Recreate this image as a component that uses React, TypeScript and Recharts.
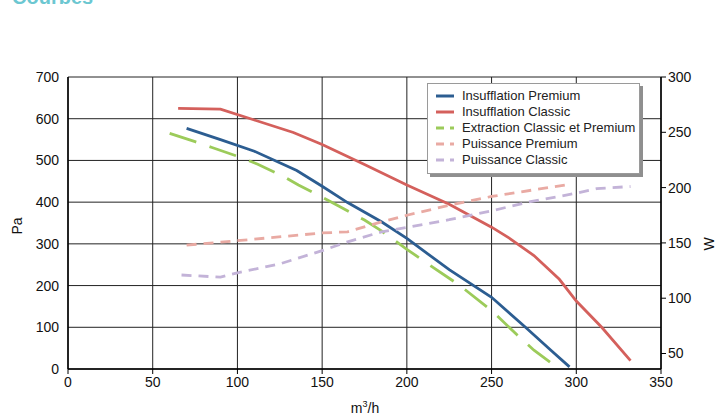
import React from "react";
import { ComposedChart, Line, XAxis, YAxis, CartesianGrid } from "recharts";

// axis ticks
const flowTicks = [0, 50, 100, 150, 200, 250, 300, 350];
const paTicks = [0, 100, 200, 300, 400, 500, 600, 700];
const wattTicks = [50, 100, 150, 200, 250, 300];

// pressure curves (m3/h -> Pa)
const insPremiumFlow = [70, 90, 110, 135, 150, 165, 185, 200, 225, 250, 270, 285, 296];
const insPremiumPa = [577, 550, 522, 476, 438, 399, 353, 313, 238, 172, 100, 45, 5];

const insClassicFlow = [65, 90, 110, 133, 150, 175, 200, 225, 250, 260, 275, 290, 300, 315, 332];
const insClassicPa = [625, 623, 597, 567, 538, 490, 441, 395, 340, 315, 272, 215, 163, 100, 20];

const extractionFlow = [60, 75, 85, 100, 112, 128, 136, 150, 160, 175, 185, 200, 215, 231, 250, 265, 275, 290];
const extractionPa = [565, 545, 531, 510, 491, 460, 441, 412, 390, 357, 331, 287, 245, 201, 140, 82, 45, 0];

// power curves (m3/h -> W)
const powerPremiumFlow = [70, 100, 150, 165, 185, 200, 225, 250, 275, 296];
const powerPremiumW = [148, 152, 159, 160, 169, 175, 184, 192, 198, 203];

const powerClassicFlow = [67, 90, 100, 125, 150, 165, 185, 200, 225, 250, 272, 290, 300, 312, 332];
const powerClassicW = [121, 119, 123, 131, 143, 151, 160, 164, 171, 179, 187, 192, 195, 199, 201];

const toPoints = (xs: number[], ys: number[]) => xs.map((x, i) => ({ x, y: ys[i] }));

const FONT = '"Liberation Sans", Arial, Helvetica, sans-serif';

const series = [
  { name: "Insufflation Premium", color: "#2c5d91", dash: undefined, axis: "left", data: toPoints(insPremiumFlow, insPremiumPa) },
  { name: "Insufflation Classic", color: "#d4605c", dash: undefined, axis: "left", data: toPoints(insClassicFlow, insClassicPa) },
  { name: "Extraction Classic et Premium", color: "#9ccb5a", dash: "28 14", axis: "left", data: toPoints(extractionFlow, extractionPa) },
  { name: "Puissance Premium", color: "#e9aaa3", dash: "10 7", axis: "right", data: toPoints(powerPremiumFlow, powerPremiumW) },
  { name: "Puissance Classic", color: "#c3b3d8", dash: "10 7", axis: "right", data: toPoints(powerClassicFlow, powerClassicW) },
];

const tickStyle = { fontSize: 14, fill: "#111", fontFamily: FONT };

export default function App() {
  return (
    <div style={{ position: "absolute", left: 0, top: 0, width: 724, height: 418, background: "#fff", overflow: "hidden", fontFamily: FONT }}>
      <div style={titleStyle}>Courbes</div>

      <ComposedChart width={724} height={418} margin={{ top: 77, right: 0, bottom: 0, left: 0 }}>
        <CartesianGrid yAxisId="left" stroke="#222" strokeWidth={1} />
        <XAxis
          type="number"
          dataKey="x"
          domain={[0, 350]}
          ticks={flowTicks}
          allowDataOverflow
          height={49}
          tick={tickStyle}
          tickSize={5}
          tickMargin={3}
          stroke="#000"
          axisLine={{ stroke: "#000", strokeWidth: 1.5 }}
          tickLine={{ stroke: "#000" }}
        />
        <YAxis
          yAxisId="left"
          type="number"
          domain={[0, 700]}
          ticks={paTicks}
          width={68}
          tick={tickStyle}
          tickSize={0}
          tickMargin={9}
          axisLine={{ stroke: "#000", strokeWidth: 1.5 }}
        />
        <YAxis
          yAxisId="right"
          orientation="right"
          type="number"
          domain={[36, 300]}
          ticks={wattTicks}
          allowDataOverflow
          width={63}
          tick={{ ...tickStyle, textAnchor: "start" }}
          tickSize={5}
          tickMargin={2}
          axisLine={{ stroke: "#000", strokeWidth: 1.5 }}
          tickLine={{ stroke: "#000" }}
        />
        {series.map((s) => (
          <Line
            key={s.name}
            yAxisId={s.axis}
            data={s.data}
            dataKey="y"
            type="linear"
            stroke={s.color}
            strokeWidth={2.8}
            strokeDasharray={s.dash}
            dot={false}
            activeDot={false}
            isAnimationActive={false}
          />
        ))}
      </ComposedChart>

      <div style={{ ...axisTitleStyle, left: 7, top: 218 }}>Pa</div>
      <div style={{ ...axisTitleStyle, left: 699, top: 236 }}>W</div>
      <div style={{ position: "absolute", left: 345, top: 399, width: 40, textAlign: "center", fontSize: 14, color: "#111", whiteSpace: "nowrap" }}>
        m<sup style={{ fontSize: 9 }}>3</sup>/h
      </div>

      <div style={legendBoxStyle}>
        {series.map((s) => (
          <div key={s.name} style={{ display: "flex", alignItems: "center", height: 16 }}>
            <svg width={18} height={6} style={{ marginRight: 8, flex: "none" }}>
              <line x1={0} y1={3} x2={18} y2={3} stroke={s.color} strokeWidth={3} strokeDasharray={s.dash ? "8 6" : undefined} />
            </svg>
            <span>{s.name}</span>
          </div>
        ))}
      </div>
    </div>
  );
}

const titleStyle: React.CSSProperties = {
  position: "absolute",
  left: 12,
  top: -13,
  fontSize: 20,
  fontWeight: 700,
  color: "#6cc7d1",
  lineHeight: "20px",
};

const axisTitleStyle: React.CSSProperties = {
  position: "absolute",
  width: 20,
  height: 16,
  lineHeight: "16px",
  textAlign: "center",
  fontSize: 14,
  color: "#111",
  whiteSpace: "nowrap",
  transform: "rotate(-90deg)",
};

const legendBoxStyle: React.CSSProperties = {
  position: "absolute",
  left: 427,
  top: 83,
  width: 203,
  height: 81,
  padding: "4px 0 4px 8px",
  background: "#fff",
  border: "1px solid #9a9a9a",
  boxShadow: "3px 3px 0 #8f8f8f",
  fontSize: 13,
  color: "#222",
  lineHeight: "16px",
  whiteSpace: "nowrap",
};
